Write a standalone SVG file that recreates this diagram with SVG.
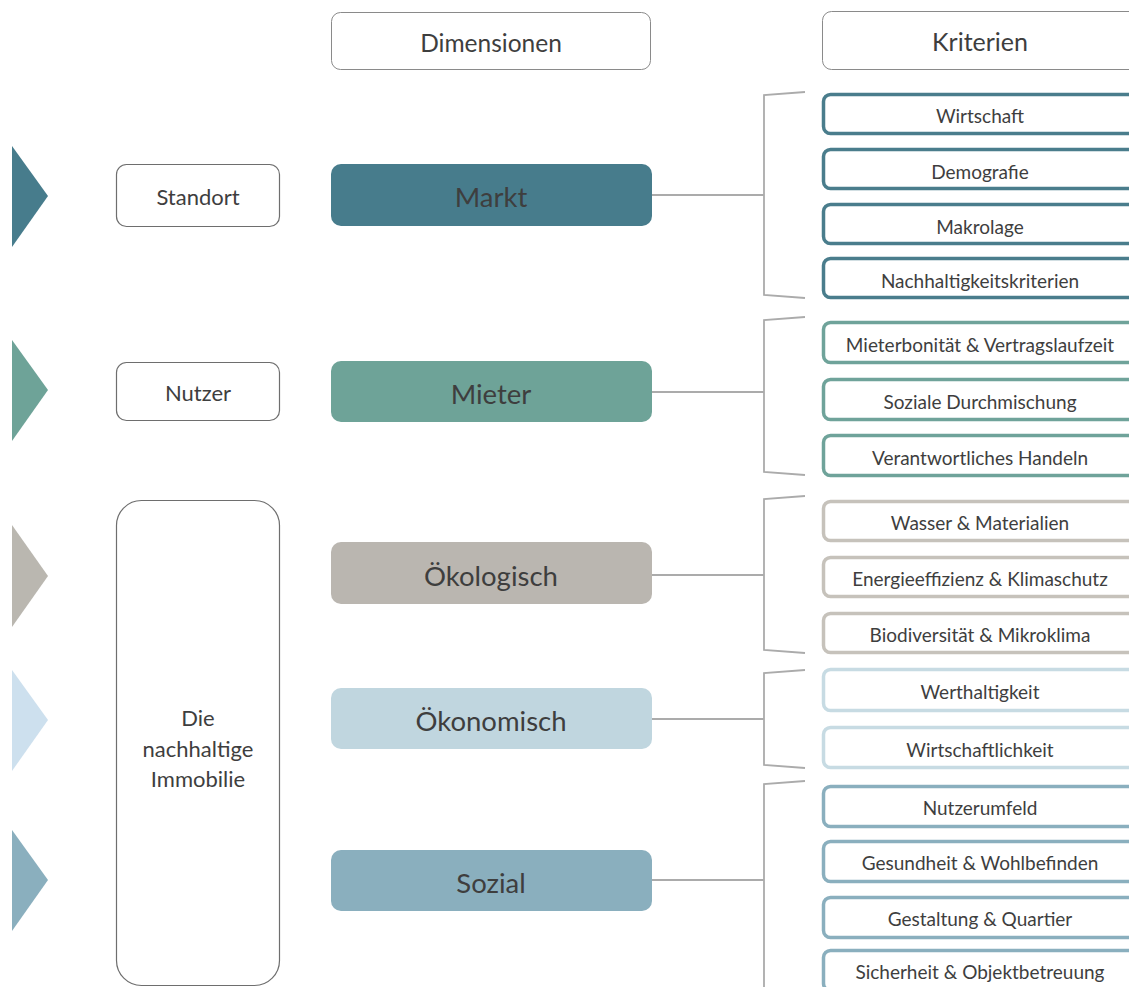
<svg xmlns="http://www.w3.org/2000/svg" width="1129" height="987" viewBox="0 0 1129 987">
<style>
text{font-family:Lato,"Open Sans","Liberation Sans",sans-serif;fill:#3e3e3e;text-anchor:middle;dominant-baseline:central}
.hdr{fill:#fff;stroke:#8a8a8a;stroke-width:1}
.lbox{fill:#fff;stroke:#6e6e6e;stroke-width:1.2}
.dim{font-size:27.5px}
.lt{font-size:22px}
.crit{fill:#fff;stroke-width:3.5}
.ct{font-size:19px}
.conn{fill:none;stroke:#ababab;stroke-width:1.8}
.c1{stroke:#4a7d8c}.c2{stroke:#6fa39a}.c3{stroke:#c6c2bb}.c4{stroke:#c7dbe3}.c5{stroke:#8aafbe}
</style>
<g id="header-dimensionen"><rect class="hdr" x="331.5" y="12.5" width="319" height="57" rx="9"/><text x="491" y="42" font-size="24.5">Dimensionen</text></g>
<g id="header-kriterien"><rect class="hdr" x="822.5" y="11.5" width="320" height="58" rx="9"/><text x="980" y="41" font-size="25">Kriterien</text></g>

<g id="arrows">
<polygon points="12,146 48,196 12,247" fill="#477c8c"/>
<polygon points="12,340 48,390 12,441" fill="#6ea398"/>
<polygon points="12,525 48,576 12,627" fill="#bab7b0"/>
<polygon points="12,670 48,720 12,771" fill="#cde0ee"/>
<polygon points="12,830 48,880 12,931" fill="#8aafbe"/>
</g>

<g id="standort"><rect class="lbox" x="116.5" y="164.5" width="163" height="62" rx="10"/><text class="lt" x="198" y="196">Standort</text></g>
<g id="nutzer"><rect class="lbox" x="116.5" y="362.5" width="163" height="58" rx="10"/><text class="lt" x="198" y="392">Nutzer</text></g>
<g id="immobilie"><rect class="lbox" x="116.5" y="500.5" width="163" height="485" rx="25"/>
<text class="lt" x="198" y="717">Die</text><text class="lt" x="198" y="748">nachhaltige</text><text class="lt" x="198" y="778">Immobilie</text></g>

<g id="connectors">
<path class="conn" d="M652,195 H764 M805,92 L764,95 V295 L805,298"/>
<path class="conn" d="M652,392 H764 M805,317 L764,320 V472 L805,475"/>
<path class="conn" d="M652,575 H764 M805,496 L764,499 V650 L805,653"/>
<path class="conn" d="M652,719 H764 M805,670 L764,673 V765 L805,768"/>
<path class="conn" d="M652,880 H764 M805,781 L764,784 V990"/>
</g>

<g id="markt"><rect x="331" y="164" width="321" height="62" rx="10" fill="#477c8c"/><text class="dim" x="491" y="196">Markt</text></g>
<g id="mieter"><rect x="331" y="361" width="321" height="61" rx="10" fill="#6ea398"/><text class="dim" x="491" y="393">Mieter</text></g>
<g id="oekologisch"><rect x="331" y="542" width="321" height="62" rx="10" fill="#bab6b0"/><text class="dim" x="491" y="575">Ökologisch</text></g>
<g id="oekonomisch"><rect x="331" y="688" width="321" height="61" rx="10" fill="#c0d6df"/><text class="dim" x="491" y="720">Ökonomisch</text></g>
<g id="sozial"><rect x="331" y="850" width="321" height="61" rx="10" fill="#8aafbe"/><text class="dim" x="491" y="882">Sozial</text></g>

<g id="k-wirtschaft"><rect class="crit c1" x="823.5" y="94.5" width="340" height="39" rx="7"/><text class="ct" x="980" y="115">Wirtschaft</text></g>
<g id="k-demografie"><rect class="crit c1" x="823.5" y="149.5" width="340" height="39" rx="7"/><text class="ct" x="980" y="171">Demografie</text></g>
<g id="k-makrolage"><rect class="crit c1" x="823.5" y="204.5" width="340" height="39" rx="7"/><text class="ct" x="980" y="226">Makrolage</text></g>
<g id="k-nachhaltigkeit"><rect class="crit c1" x="823.5" y="258.5" width="340" height="39" rx="7"/><text class="ct" x="980" y="280">Nachhaltigkeitskriterien</text></g>

<g id="k-mieterbonitaet"><rect class="crit c2" x="823.5" y="322.5" width="340" height="40" rx="7"/><text class="ct" x="980" y="344">Mieterbonität &amp; Vertragslaufzeit</text></g>
<g id="k-soziale"><rect class="crit c2" x="823.5" y="379.5" width="340" height="40" rx="7"/><text class="ct" x="980" y="401">Soziale Durchmischung</text></g>
<g id="k-verantwortlich"><rect class="crit c2" x="823.5" y="435.5" width="340" height="40" rx="7"/><text class="ct" x="980" y="457">Verantwortliches Handeln</text></g>

<g id="k-wasser"><rect class="crit c3" x="823.5" y="501.5" width="340" height="39" rx="7"/><text class="ct" x="980" y="522">Wasser &amp; Materialien</text></g>
<g id="k-energie"><rect class="crit c3" x="823.5" y="557.5" width="340" height="39" rx="7"/><text class="ct" x="980" y="578">Energieeffizienz &amp; Klimaschutz</text></g>
<g id="k-biodiversitaet"><rect class="crit c3" x="823.5" y="613.5" width="340" height="39" rx="7"/><text class="ct" x="980" y="634">Biodiversität &amp; Mikroklima</text></g>

<g id="k-werthaltigkeit"><rect class="crit c4" x="823.5" y="669.5" width="340" height="41" rx="7"/><text class="ct" x="980" y="691">Werthaltigkeit</text></g>
<g id="k-wirtschaftlichkeit"><rect class="crit c4" x="823.5" y="727.5" width="340" height="40" rx="7"/><text class="ct" x="980" y="749">Wirtschaftlichkeit</text></g>

<g id="k-nutzerumfeld"><rect class="crit c5" x="823.5" y="786.5" width="340" height="40" rx="7"/><text class="ct" x="980" y="807">Nutzerumfeld</text></g>
<g id="k-gesundheit"><rect class="crit c5" x="823.5" y="841.5" width="340" height="40" rx="7"/><text class="ct" x="980" y="862">Gesundheit &amp; Wohlbefinden</text></g>
<g id="k-gestaltung"><rect class="crit c5" x="823.5" y="897.5" width="340" height="40" rx="7"/><text class="ct" x="980" y="918">Gestaltung &amp; Quartier</text></g>
<g id="k-sicherheit"><rect class="crit c5" x="823.5" y="950.5" width="340" height="40" rx="7"/><text class="ct" x="980" y="971">Sicherheit &amp; Objektbetreuung</text></g>
</svg>
